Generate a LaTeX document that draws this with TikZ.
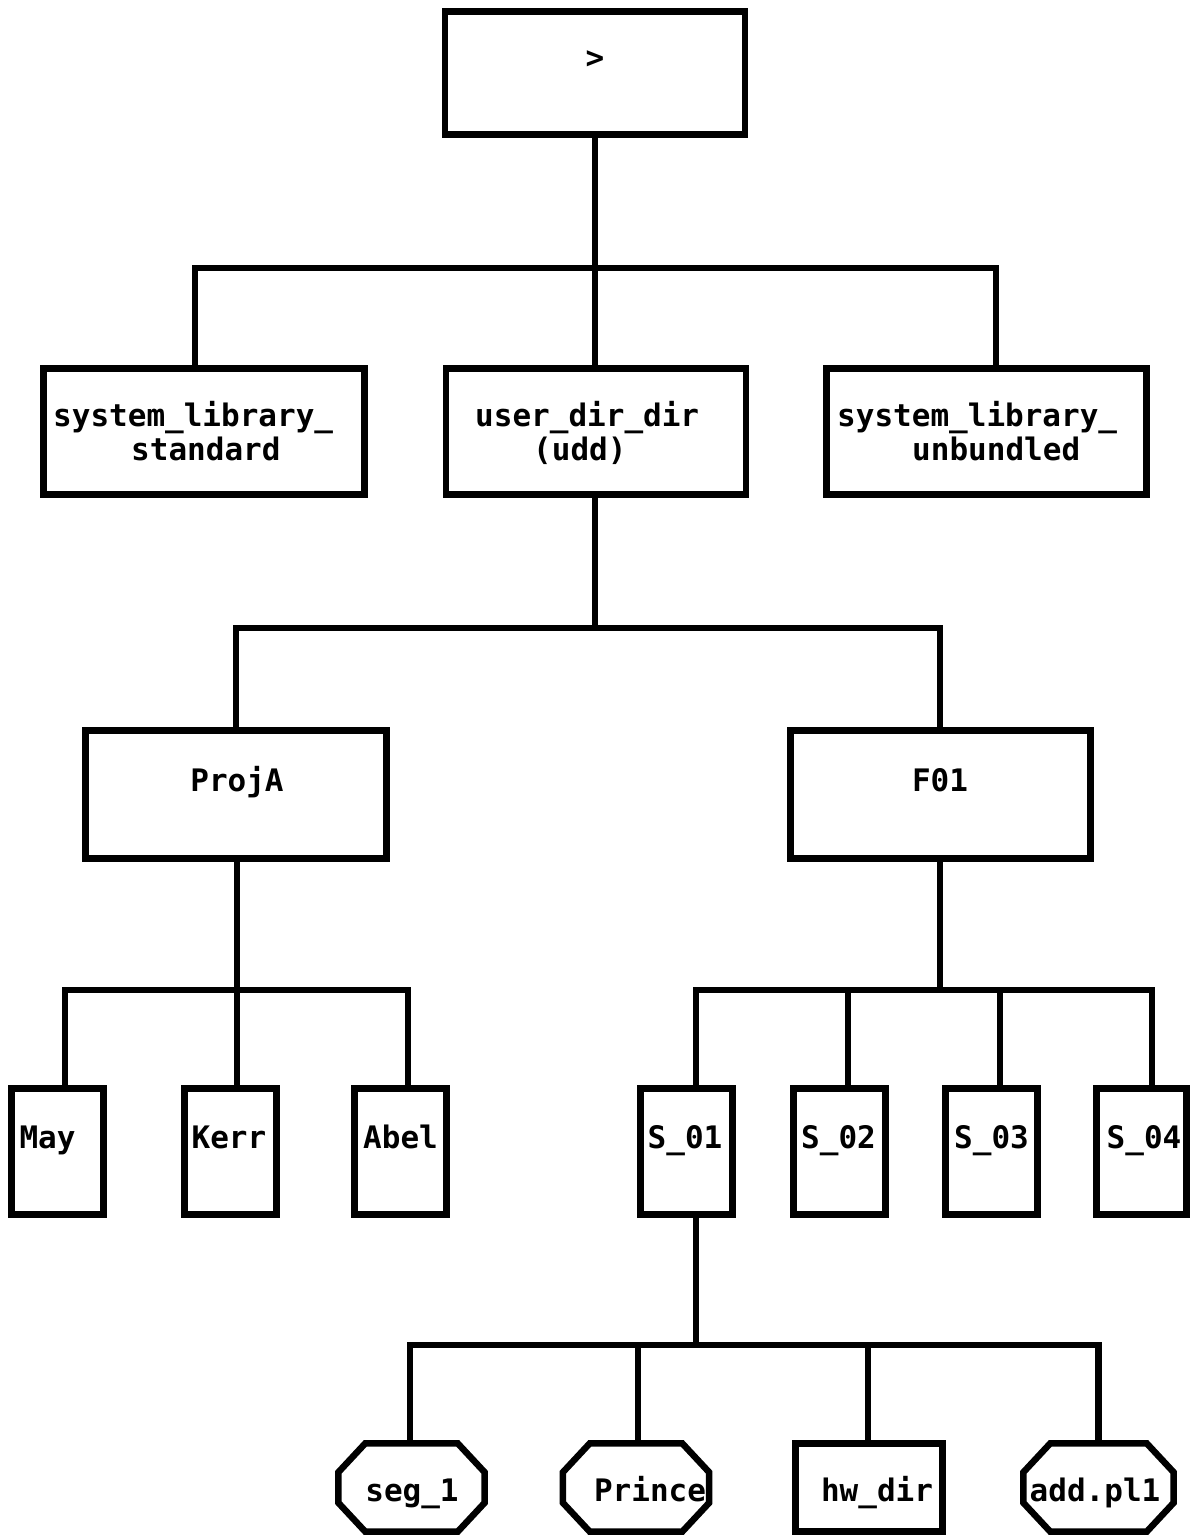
\documentclass[tikz,border=0pt]{standalone}
\usepackage{fontspec}
\newfontfamily\dirfont{DejaVu Sans Mono}[BoldFont={DejaVu Sans Mono Bold}]
% outline of an octagonal node: corners cut off a named slot node
\newcommand\octoutline[1]{%
  \draw[wire] ([xshift=27pt]#1.north west) -- ([xshift=-27pt]#1.north east)
    -- ([yshift=-29pt]#1.north east) -- ([yshift=29pt]#1.south east)
    -- ([xshift=-27pt]#1.south east) -- ([xshift=27pt]#1.south west)
    -- ([yshift=29pt]#1.south west) -- ([yshift=-29pt]#1.north west) -- cycle;}
\begin{document}
\begin{tikzpicture}[x=1pt,y=-1pt,
  wire/.style={line width=6.5pt,line join=miter},
  box/.style={draw,wire,rectangle,inner sep=0pt},
  slot/.style={rectangle,inner sep=0pt,draw=none},
  lbl/.style={anchor=base,inner sep=0pt,font=\dirfont\bfseries\fontsize{31}{34}\selectfont},
  lblw/.style={lbl,anchor=base west}]
\useasboundingbox[fill=white] (0,0) rectangle (1191,1538);

% ---- root ----
\node[box,minimum width=300pt,minimum height=123pt] (root) at (595,73) {};
\node[lbl] (troot) at (595,69) {>};

% ---- second level ----
\node[box,minimum width=321pt,minimum height=126pt] (sysstd) at (204,431.5) {};
\node[box,minimum width=300pt,minimum height=126pt] (udd) at (596,431.5) {};
\node[box,minimum width=320pt,minimum height=126pt] (sysunb) at (986.5,431.5) {};
\node[lblw] (tsysstdA) at (53,426) {system\_library\_};
\node[lblw] (tsysstdB) at (131,460) {standard};
\node[lblw] (tuddA) at (475,426) {user\_dir\_dir};
\node[lblw] (tuddB) at (533,460) {(udd)};
\node[lblw] (tsysunbA) at (837,426) {system\_library\_};
\node[lblw] (tsysunbB) at (912,460) {unbundled};

% ---- third level ----
\node[box,minimum width=301pt,minimum height=128pt] (proja) at (236,794.5) {};
\node[box,minimum width=300pt,minimum height=128pt] (f01) at (940.5,794.5) {};
\node[lbl] (tproja) at (237,791) {ProjA};
\node[lbl] (tf01) at (940,791) {F01};

% ---- fourth level ----
\foreach \n/\cx in {may/57.5,kerr/230.5,abel/400.5,sA/686.5,sB/839.5,sC/991.5}
  \node[box,minimum width=92pt,minimum height=126pt] (\n) at (\cx,1151.5) {};
\node[box,minimum width=90pt,minimum height=126pt] (sD) at (1141.5,1151.5) {};
\node[lbl] (tmay) at (47.5,1148) {May};
\node[lbl] (tkerr) at (229,1148) {Kerr};
\node[lbl] (tabel) at (400.5,1148) {Abel};
\node[lbl] (tsA) at (685,1148) {S\_01};
\node[lbl] (tsB) at (838.5,1148) {S\_02};
\node[lbl] (tsC) at (991.5,1148) {S\_03};
\node[lbl] (tsD) at (1144,1148) {S\_04};

% ---- fifth level ----
\node[slot,minimum width=146pt,minimum height=88pt] (seg) at (411.5,1487.5) {};
\node[slot,minimum width=146pt,minimum height=88pt] (prince) at (636,1487.5) {};
\node[box,minimum width=147pt,minimum height=88pt] (hw) at (869,1487.5) {};
\node[slot,minimum width=150pt,minimum height=88pt] (add) at (1098.5,1487.5) {};
\octoutline{seg}
\octoutline{prince}
\octoutline{add}
\node[lbl] (tseg) at (412,1501) {seg\_1};
\node[lbl] (tprince) at (650,1501) {Prince};
\node[lbl] (thw) at (877,1501) {hw\_dir};
\node[lbl] (tadd) at (1095,1501) {add.pl1};

% ---- connectors ----
\coordinate (j1) at (595,268);
\draw[wire] (root.south) -- (j1);
\draw[wire] ([xshift=-9pt]sysstd.north) |- (j1);
\draw[wire] ([xshift=-1pt]udd.north) -- (j1);
\draw[wire] ([xshift=9.5pt]sysunb.north) |- (j1);

\coordinate (j2) at (595,628);
\draw[wire] ([xshift=-1pt]udd.south) -- (j2);
\draw[wire] (proja.north) |- (j2);
\draw[wire] ([xshift=-0.5pt]f01.north) |- (j2);

\coordinate (j3) at (237,990);
\draw[wire] ([xshift=1pt]proja.south) -- (j3);
\draw[wire] ([xshift=7.5pt]may.north) |- (j3);
\draw[wire] ([xshift=6.5pt]kerr.north) |- (j3);
\draw[wire] ([xshift=7.5pt]abel.north) |- (j3);

\coordinate (j4) at (940,990);
\draw[wire] ([xshift=-0.5pt]f01.south) -- (j4);
\draw[wire] ([xshift=9.5pt]sA.north) |- (j4);
\draw[wire] ([xshift=8.5pt]sB.north) |- (j4);
\draw[wire] ([xshift=8.5pt]sC.north) |- (j4);
\draw[wire] ([xshift=10.5pt]sD.north) |- (j4);

\coordinate (j5) at (696,1345);
\draw[wire] ([xshift=9.5pt]sA.south) -- (j5);
\draw[wire] ([xshift=-1.5pt]seg.north) |- (j5);
\draw[wire] ([xshift=2pt]prince.north) |- (j5);
\draw[wire] ([xshift=-1pt]hw.north) |- (j5);
\draw[wire] (add.north) |- (j5);
\end{tikzpicture}
\end{document}
